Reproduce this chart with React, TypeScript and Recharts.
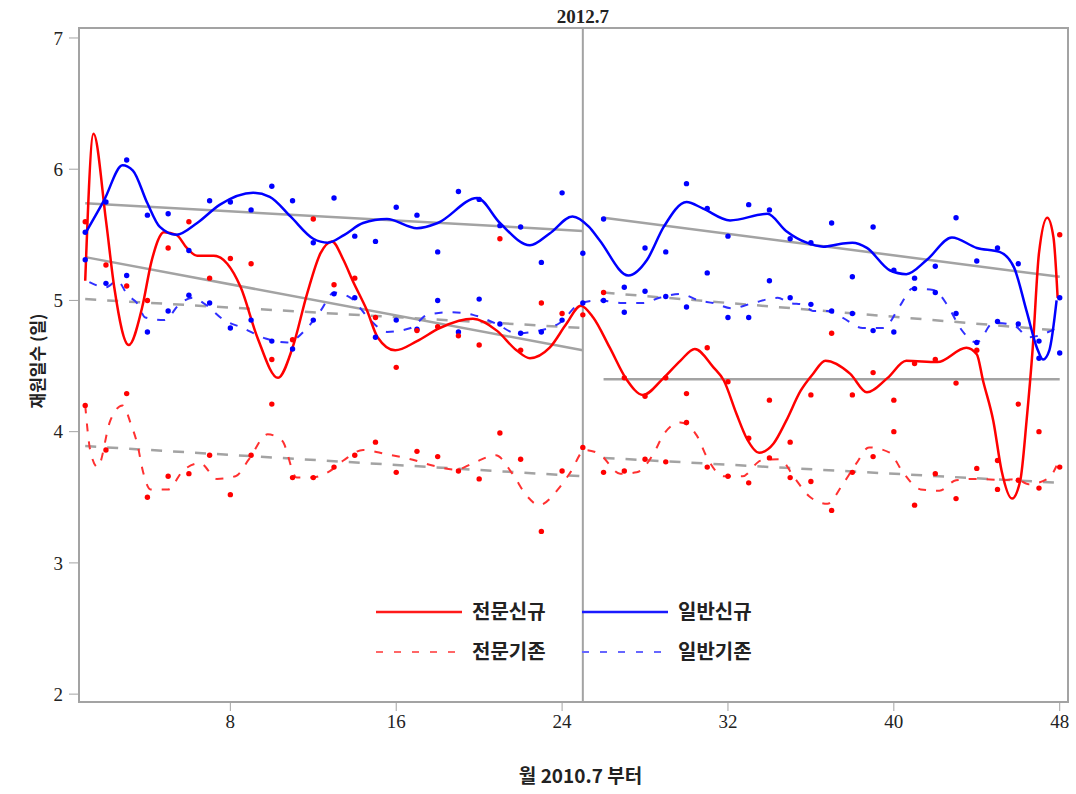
import {
  ComposedChart,
  Line,
  Scatter,
  XAxis,
  YAxis,
  ReferenceLine,
  ReferenceArea,
} from "recharts";

// monthly observations (month 1 = 2010.7)
const months = [
  1, 2, 3, 4, 5, 6, 7, 8, 9, 10, 11, 12, 13, 14, 15, 16, 17, 18, 19, 20, 21, 22, 23, 24,
  25, 26, 27, 28, 29, 30, 31, 32, 33, 34, 35, 36, 37, 38, 39, 40, 41, 42, 43, 44, 45, 46, 47, 48,
];

const redNewValues = [
  5.6, 5.27, 5.11, 5.0, 5.4, 5.6, 5.17, 5.32, 5.28, 4.55, 4.7, 5.62, 5.12, 5.17, 4.87, 4.49,
  4.77, 4.8, 4.73, 4.66, 5.47, 4.62, 4.98, 4.9, 4.89, 5.06, 4.41, 4.27, 4.41, 4.29, 4.64, 4.38,
  3.95, 4.24, 3.92, 4.28, 4.75, 4.28, 4.45, 4.24, 4.52, 4.55, 4.37, 4.62, 3.78, 4.21, 4.0, 5.5,
];
const blueNewValues = [
  5.52, 5.75, 6.07, 5.65, 5.66, 5.38, 5.76, 5.75, 5.69, 5.87, 5.76, 5.44, 5.78, 5.49, 5.45, 5.71,
  5.65, 5.37, 5.83, 5.77, 5.57, 5.56, 5.29, 5.82, 5.36, 5.62, 5.1, 5.4, 5.37, 5.89, 5.7, 5.49,
  5.73, 5.69, 5.47, 5.44, 5.59, 5.18, 5.56, 5.23, 5.17, 5.26, 5.63, 5.3, 5.4, 5.28, 4.56, 5.02,
];
const redOldValues = [
  4.2, 3.86, 4.29, 3.5, 3.66, 3.68, 3.82, 3.52, 3.82, 4.21, 3.65, 3.65, 3.73, 3.82, 3.92, 3.69,
  3.85, 3.81, 3.7, 3.64, 3.99, 3.79, 3.24, 3.7, 3.88, 3.69, 3.7, 3.79, 3.77, 4.07, 3.73, 3.66,
  3.61, 3.8, 3.65, 3.62, 3.4, 3.69, 3.81, 4.0, 3.44, 3.68, 3.49, 3.72, 3.56, 3.63, 3.57, 3.73,
];
const blueOldValues = [
  5.31, 5.13, 5.19, 4.76, 4.92, 5.04, 4.98, 4.79, 4.85, 4.69, 4.63, 4.85, 5.05, 5.02, 4.72, 4.85,
  4.78, 5.0, 4.76, 5.01, 4.82, 4.75, 4.76, 4.85, 4.98, 5.0, 4.91, 5.07, 5.03, 4.95, 5.21, 4.87,
  4.87, 5.15, 5.02, 4.97, 4.92, 4.9, 4.77, 4.76, 5.09, 5.06, 4.9, 4.68, 4.84, 4.82, 4.69, 4.6,
];

// smoothed curves as [month, value]
const redNewSmooth = [
  [1, 5.15], [1.4, 6.27], [2.0, 5.61], [2.4, 5.1], [3.1, 4.66], [3.75, 4.95], [4.2, 5.3],
  [4.8, 5.52], [5.4, 5.5], [5.9, 5.4], [6.4, 5.34], [7.2, 5.34], [7.85, 5.28], [8.5, 5.1],
  [9.3, 4.72], [10.3, 4.41], [11.0, 4.64], [11.7, 5.05], [12.35, 5.36], [12.9, 5.45],
  [13.45, 5.31], [13.9, 5.15], [14.6, 4.92], [15.1, 4.72], [15.95, 4.62], [17, 4.69],
  [18.1, 4.79], [19.7, 4.86], [20.85, 4.77], [21.8, 4.62], [22.45, 4.56], [23.4, 4.64],
  [24.2, 4.82], [24.9, 4.96], [25.5, 4.87], [26.3, 4.64], [27.1, 4.4], [27.9, 4.28],
  [28.9, 4.41], [29.7, 4.54], [30.4, 4.63], [31.3, 4.49], [31.8, 4.39], [32.4, 4.14],
  [32.9, 3.95], [33.5, 3.84], [34.2, 3.91], [34.8, 4.08], [35.5, 4.31], [36.1, 4.44],
  [36.7, 4.54], [37.9, 4.44], [38.7, 4.3], [39.7, 4.41], [40.6, 4.54], [42.1, 4.53],
  [43.5, 4.64], [44.0, 4.59], [44.3, 4.39], [44.8, 4.08], [45.2, 3.7], [45.7, 3.49],
  [46.1, 3.63], [46.4, 4.08], [46.7, 4.64], [47.0, 5.36], [47.4, 5.63], [47.7, 5.48],
  [47.9, 5.02],
];
const blueNewSmooth = [
  [1, 5.51], [1.9, 5.76], [2.8, 6.03], [3.3, 5.99], [4.0, 5.74], [4.6, 5.56], [5.4, 5.5],
  [6.4, 5.59], [7.5, 5.73], [9.1, 5.82], [9.9, 5.79], [10.9, 5.64], [12.0, 5.47], [12.7, 5.44],
  [13.5, 5.5], [14.4, 5.59], [15.55, 5.62], [17, 5.55], [18, 5.59], [19.9, 5.78], [21, 5.59],
  [22.45, 5.42], [23.4, 5.51], [24.5, 5.64], [25.3, 5.56], [25.8, 5.46], [27.2, 5.19],
  [28.1, 5.31], [28.9, 5.56], [30, 5.75], [30.8, 5.7], [32.1, 5.61], [33.9, 5.66], [34.8, 5.53],
  [35.8, 5.44], [36.6, 5.41], [37.4, 5.43], [38.0, 5.44], [38.7, 5.4], [39.8, 5.23],
  [40.6, 5.2], [41.6, 5.31], [42.8, 5.48], [44, 5.4], [45.1, 5.37], [45.8, 5.25], [46.4, 4.92],
  [46.9, 4.64], [47.2, 4.55], [47.5, 4.62], [47.85, 5.0],
];
const redOldSmooth = [
  [1, 4.2], [1.25, 3.85], [1.6, 3.73], [2.2, 4.08], [2.8, 4.2], [3.2, 4.06], [3.55, 3.88],
  [3.75, 3.72], [4.15, 3.56], [5.0, 3.56], [5.7, 3.7], [6.55, 3.76], [7.35, 3.64], [8.25, 3.66],
  [8.9, 3.79], [9.8, 3.98], [10.5, 3.93], [11.2, 3.65], [11.9, 3.65], [12.8, 3.7], [13.45, 3.78],
  [14.4, 3.86], [15.5, 3.83], [16.7, 3.79], [17.8, 3.74], [18.9, 3.71], [19.7, 3.76],
  [20.8, 3.82], [21.6, 3.68], [22.3, 3.51], [22.9, 3.44], [23.8, 3.56], [24.4, 3.69],
  [25.1, 3.86], [25.8, 3.83], [26.8, 3.68], [27.6, 3.69], [28.4, 3.83], [28.9, 3.98],
  [29.7, 4.07], [30.5, 3.97], [31, 3.8], [31.8, 3.66], [32.7, 3.66], [33.6, 3.78], [34.5, 3.79],
  [35.2, 3.65], [35.9, 3.51], [36.8, 3.45], [37.5, 3.59], [38.2, 3.76], [38.8, 3.88],
  [39.8, 3.84], [40.4, 3.7], [41.3, 3.56], [42.2, 3.55], [43, 3.63], [44, 3.64], [45.3, 3.63],
  [45.9, 3.64], [46.5, 3.6], [47.5, 3.65], [47.85, 3.74],
];
const blueOldSmooth = [
  [1.2, 5.14], [2, 5.1], [2.55, 5.15], [3.05, 5.04], [3.5, 4.98], [3.9, 4.87], [4.8, 4.85],
  [5.6, 4.98], [6.2, 5.02], [6.7, 4.98], [7.7, 4.85], [8.6, 4.79], [9.7, 4.71], [10.75, 4.68],
  [11.7, 4.79], [12.35, 4.92], [13, 5.06], [13.8, 5.02], [14.75, 4.85], [15.55, 4.76],
  [16.7, 4.79], [17.5, 4.89], [18.6, 4.91], [19.7, 4.89], [20.85, 4.82], [21.8, 4.75],
  [22.9, 4.77], [23.9, 4.83], [24.9, 4.98], [25.8, 5.0], [26.9, 4.98], [27.9, 4.98],
  [28.7, 5.02], [29.7, 5.05], [30.6, 5.0], [31.3, 4.98], [32.2, 4.94], [33.2, 4.98],
  [34.4, 5.02], [35, 4.98], [35.6, 4.97], [36.1, 4.92], [36.8, 4.92], [37.5, 4.87],
  [38.5, 4.79], [39.5, 4.79], [40.3, 4.96], [40.9, 5.09], [41.9, 5.08], [42.6, 4.96],
  [43.2, 4.79], [44, 4.68], [44.8, 4.83], [45.8, 4.81], [46.5, 4.72], [47.85, 4.79],
];

// fitted trend segments, before and after 2012.7
const redNewTrend = [[[1, 5.33], [25, 4.62]], [[26, 4.4], [48, 4.4]]];
const blueNewTrend = [[[1, 5.74], [25, 5.53]], [[26, 5.63], [48, 5.18]]];
const redOldTrend = [[[1, 3.89], [25, 3.66]], [[26, 3.8], [48, 3.61]]];
const blueOldTrend = [[[1, 5.01], [25, 4.79]], [[26, 5.06], [48, 4.77]]];

const xTicks = [8, 16, 24, 32, 40, 48];
const yTicks = [2, 3, 4, 5, 6, 7];
const breakMonth = 25;

const legendItems = [
  { name: "전문신규", color: "#ff1a1a", dash: undefined, col: 0, row: 0 },
  { name: "일반신규", color: "#1a1aff", dash: undefined, col: 1, row: 0 },
  { name: "전문기존", color: "#ff6666", dash: "7 11", col: 0, row: 1 },
  { name: "일반기존", color: "#6666ff", dash: "7 11", col: 1, row: 1 },
];

const toPoints = (values: number[]) => months.map((m, i) => ({ x: m, y: values[i] }));
const toXY = (pairs: number[][]) => pairs.map(([x, y]) => ({ x, y }));

const RED = "#ff0000";
const BLUE = "#0000ff";
const GRAY = "#a3a3a3";
const serif = "'Liberation Serif', 'DejaVu Serif', serif";
const korean = "'Noto Sans CJK KR', 'Noto Sans', sans-serif";

const dotShape = (color: string) => (props: any) =>
  <circle cx={props.cx} cy={props.cy} r={2.7} fill={color} />;

function ChartLegend() {
  return (
    <svg
      width={420}
      height={80}
      style={{ position: "absolute", left: 370, top: 590 }}
    >
      {legendItems.map((item) => {
        const x0 = 6 + item.col * 206;
        const y0 = 22 + item.row * 40;
        return (
          <g key={item.name}>
            <line
              x1={x0}
              x2={x0 + 86}
              y1={y0}
              y2={y0}
              stroke={item.color}
              strokeWidth={item.dash ? 2 : 2.5}
              strokeDasharray={item.dash}
            />
            <text
              x={x0 + 96}
              y={y0 + 7}
              fontFamily={korean}
              fontWeight="bold"
              fontSize={20}
              fill="#222"
            >
              {item.name}
            </text>
          </g>
        );
      })}
    </svg>
  );
}

export default function App() {
  const trendLine = (seg: number[][], key: string, dashed: boolean) => (
    <Line
      key={key}
      data={toXY(seg)}
      dataKey="y"
      type="linear"
      stroke={GRAY}
      strokeWidth={2.5}
      strokeDasharray={dashed ? "11 11" : undefined}
      dot={false}
      activeDot={false}
      isAnimationActive={false}
    />
  );

  return (
    <div
      style={{
        position: "absolute",
        left: 0,
        top: 0,
        width: 1076,
        height: 794,
        background: "#fff",
      }}
    >
      <ComposedChart
        width={1076}
        height={794}
        margin={{ top: 28, right: 8, bottom: 0, left: 0 }}
      >
        <XAxis
          dataKey="x"
          type="number"
          domain={[0.7, 48.4]}
          ticks={xTicks}
          allowDataOverflow
          height={92}
          tickSize={9}
          tickMargin={4}
          stroke={GRAY}
          axisLine={{ stroke: GRAY, strokeWidth: 2 }}
          tick={{ fill: "#222", fontSize: 19, fontFamily: serif }}
          label={{
            value: "월 2010.7 부터",
            position: "insideBottom",
            offset: 11,
            dx: 7,
            fill: "#222",
            fontSize: 19,
            fontWeight: "bold",
            fontFamily: korean,
          }}
        />
        <YAxis
          dataKey="y"
          type="number"
          domain={[1.94, 7.076]}
          ticks={yTicks}
          allowDataOverflow
          width={79}
          tickSize={10}
          tickMargin={6}
          stroke={GRAY}
          axisLine={{ stroke: GRAY, strokeWidth: 2 }}
          tick={{ fill: "#222", fontSize: 19, fontFamily: serif }}
          label={{
            value: "재원일수 (일)",
            angle: -90,
            position: "center",
            dx: -2,
            dy: -4,
            fill: "#222",
            fontSize: 17,
            fontWeight: "bold",
            fontFamily: korean,
          }}
        />
        <ReferenceArea
          x1={0.7}
          x2={48.4}
          y1={1.94}
          y2={7.076}
          fill="none"
          stroke={GRAY}
          strokeWidth={2}
        />
        <ReferenceLine
          x={breakMonth}
          stroke={GRAY}
          strokeWidth={2}
          label={{
            value: "2012.7",
            position: "top",
            fill: "#222",
            fontSize: 19,
            fontWeight: "bold",
            fontFamily: serif,
          }}
        />

        {blueNewTrend.map((s, i) => trendLine(s, "bnt" + i, false))}
        {redNewTrend.map((s, i) => trendLine(s, "rnt" + i, false))}
        {blueOldTrend.map((s, i) => trendLine(s, "bot" + i, true))}
        {redOldTrend.map((s, i) => trendLine(s, "rot" + i, true))}

        <Line
          data={toXY(redOldSmooth)}
          dataKey="y"
          type="monotone"
          stroke="#ff3030"
          strokeWidth={2}
          strokeDasharray="8 10"
          dot={false}
          activeDot={false}
          isAnimationActive={false}
        />
        <Line
          data={toXY(blueOldSmooth)}
          dataKey="y"
          type="monotone"
          stroke="#3030ff"
          strokeWidth={2}
          strokeDasharray="8 10"
          dot={false}
          activeDot={false}
          isAnimationActive={false}
        />
        <Line
          data={toXY(redNewSmooth)}
          dataKey="y"
          type="monotone"
          stroke={RED}
          strokeWidth={2.5}
          dot={false}
          activeDot={false}
          isAnimationActive={false}
        />
        <Line
          data={toXY(blueNewSmooth)}
          dataKey="y"
          type="monotone"
          stroke={BLUE}
          strokeWidth={2.5}
          dot={false}
          activeDot={false}
          isAnimationActive={false}
        />

        <Scatter data={toPoints(redOldValues)} dataKey="y" shape={dotShape(RED)} isAnimationActive={false} />
        <Scatter data={toPoints(blueOldValues)} dataKey="y" shape={dotShape(BLUE)} isAnimationActive={false} />
        <Scatter data={toPoints(redNewValues)} dataKey="y" shape={dotShape(RED)} isAnimationActive={false} />
        <Scatter data={toPoints(blueNewValues)} dataKey="y" shape={dotShape(BLUE)} isAnimationActive={false} />
      </ComposedChart>
      <ChartLegend />
    </div>
  );
}
